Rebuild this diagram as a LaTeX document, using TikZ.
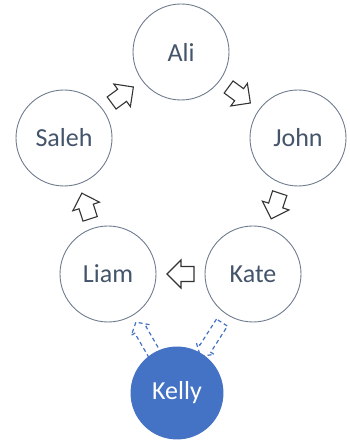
\documentclass[tikz,border=0pt]{standalone}
\usepackage{fontspec}
\setmainfont{Carlito}
\usetikzlibrary{calc}
\definecolor{txt}{HTML}{44546A}
\definecolor{ringline}{HTML}{6F7C8F}
\definecolor{kblue}{HTML}{4472C4}
\tikzset{
  person/.style={circle, draw=ringline, line width=0.9pt, minimum size=96pt, inner sep=0pt,
    text=txt, font=\fontsize{26}{30}\selectfont},
  newperson/.style={person, fill=kblue, draw=kblue, text=white, minimum size=92pt},
  ringarrow/.pic={\draw[line width=1.1pt, draw=black!80, fill=white, line join=miter]
    (-13.5,-7.5) -- (-0.5,-7.5) -- (-0.5,-14) -- (13.5,0) -- (-0.5,14) -- (-0.5,7.5) -- (-13.5,7.5) -- cycle;},
  dasharrow/.pic={\draw[line width=1.2pt, draw=kblue, dash pattern=on 4pt off 3pt, line join=miter]
    (-20,-6.5) -- (11,-6.5) -- (11,-10.5) -- (20,0) -- (11,10.5) -- (11,6.5) -- (-20,6.5) -- cycle;}
}
\newcommand\flowarrow[4][0.5]{\path let \p1=($(#4)-(#3)$), \n1={atan2(\y1,\x1)} in ($(#3)!#1!(#4)$) pic[rotate=\n1]{#2};}
\begin{document}
\begin{tikzpicture}[x=1pt,y=1pt]
\useasboundingbox (0,0) rectangle (349,441);
\node[person] (ali) at (181,389) {Ali};
\node[person] (john) at (298,303) {John};
\node[person] (saleh) at (64,303) {Saleh};
\node[person] (liam) at (108,167) {Liam};
\node[person] (kate) at (253,167) {Kate};
\node[newperson] (kelly) at (177,48) {Kelly};
\flowarrow{ringarrow}{saleh}{ali}
\flowarrow{ringarrow}{ali}{john}
\flowarrow{ringarrow}{john}{kate}
\flowarrow{ringarrow}{kate}{liam}
\flowarrow{ringarrow}{liam}{saleh}
\flowarrow[0.55]{dasharrow}{kate}{kelly}
\flowarrow[0.45]{dasharrow}{kelly}{liam}
\end{tikzpicture}
\end{document}
